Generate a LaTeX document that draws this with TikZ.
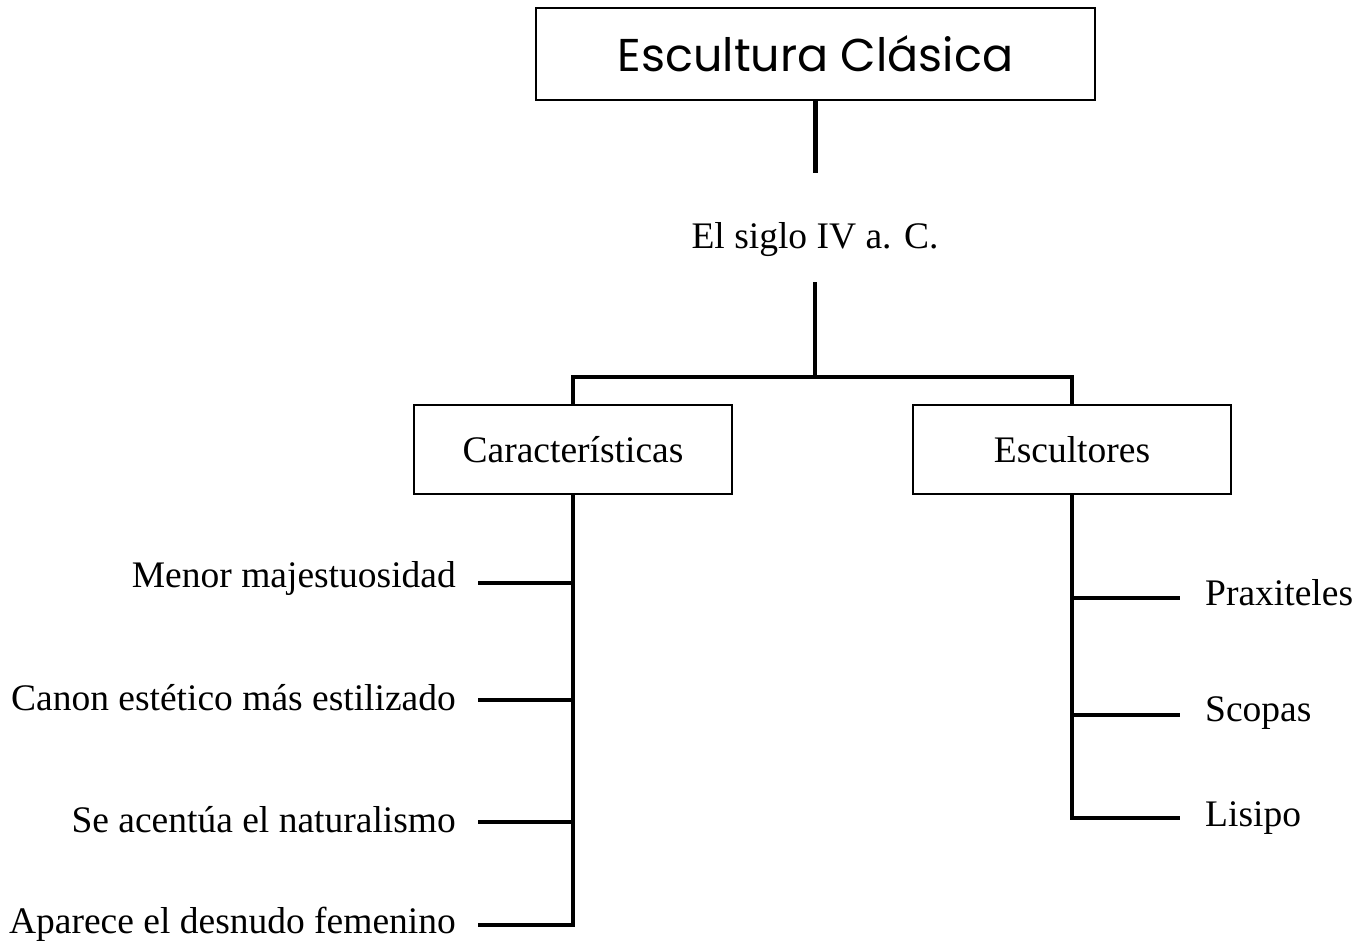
\documentclass[tikz,border=0pt]{standalone}
\usepackage{fontspec}
\setmainfont{Liberation Serif}
\newfontfamily\titlefont{Poppins}
\usetikzlibrary{positioning, calc}

\begin{document}
\begin{tikzpicture}[
  x=1pt, y=-1pt,
  box/.style={draw, line width=1.3pt, inner sep=0pt, font=\fontsize{37.5}{44}\selectfont},
  lbl/.style={inner sep=0pt, font=\fontsize{37.5}{44}\selectfont},
  link/.style={line width=4.8pt},
]
\useasboundingbox (0,0) rectangle (1356,946);

\node[box, minimum width=559pt, minimum height=92pt,
      font=\titlefont\fontsize{46}{54}\selectfont] (top) at (815.5,54) {Escultura Clásica};
\node[lbl] (siglo) at (815,240) {El siglo IV a. C.};
\node[box, minimum width=318pt, minimum height=89pt] (car) at (573,449.5) {Características};
\node[box, minimum width=318pt, minimum height=89pt] (esc) at (1072,449.5) {Escultores};

% rasgos
\node[lbl, anchor=east] (c1) at (456,578) {Menor majestuosidad};
\node[lbl, anchor=east] (c2) at (456,698) {Canon estético más estilizado};
\node[lbl, anchor=east] (c3) at (456,820) {Se acentúa el naturalismo};
\node[lbl, anchor=east] (c4) at (456,924) {Aparece el desnudo femenino};

% escultores
\node[lbl, anchor=west] (e1) at (1205,593) {Praxiteles};
\node[lbl, anchor=west] (e2) at (1205,713) {Scopas};
\node[lbl, anchor=west] (e3) at (1205,818) {Lisipo};

\coordinate (hub) at (815,377);
\draw[link] (top.south) -- ++(0,72);
\draw[link] (hub) -- ++(0,-95);
\draw[link] (car.north) |- (hub) -| (esc.north);

\draw[link] (car.south) -- (573,927);
\foreach \n/\yy in {c1/583, c2/700, c3/822, c4/925}
  \draw[link] (478,\yy) -- (573,\yy);

\draw[link] (esc.south) |- (1180,818);
\foreach \n/\yy in {e1/598, e2/715}
  \draw[link] (1073,\yy) -- (1180,\yy);
\end{tikzpicture}
\end{document}
